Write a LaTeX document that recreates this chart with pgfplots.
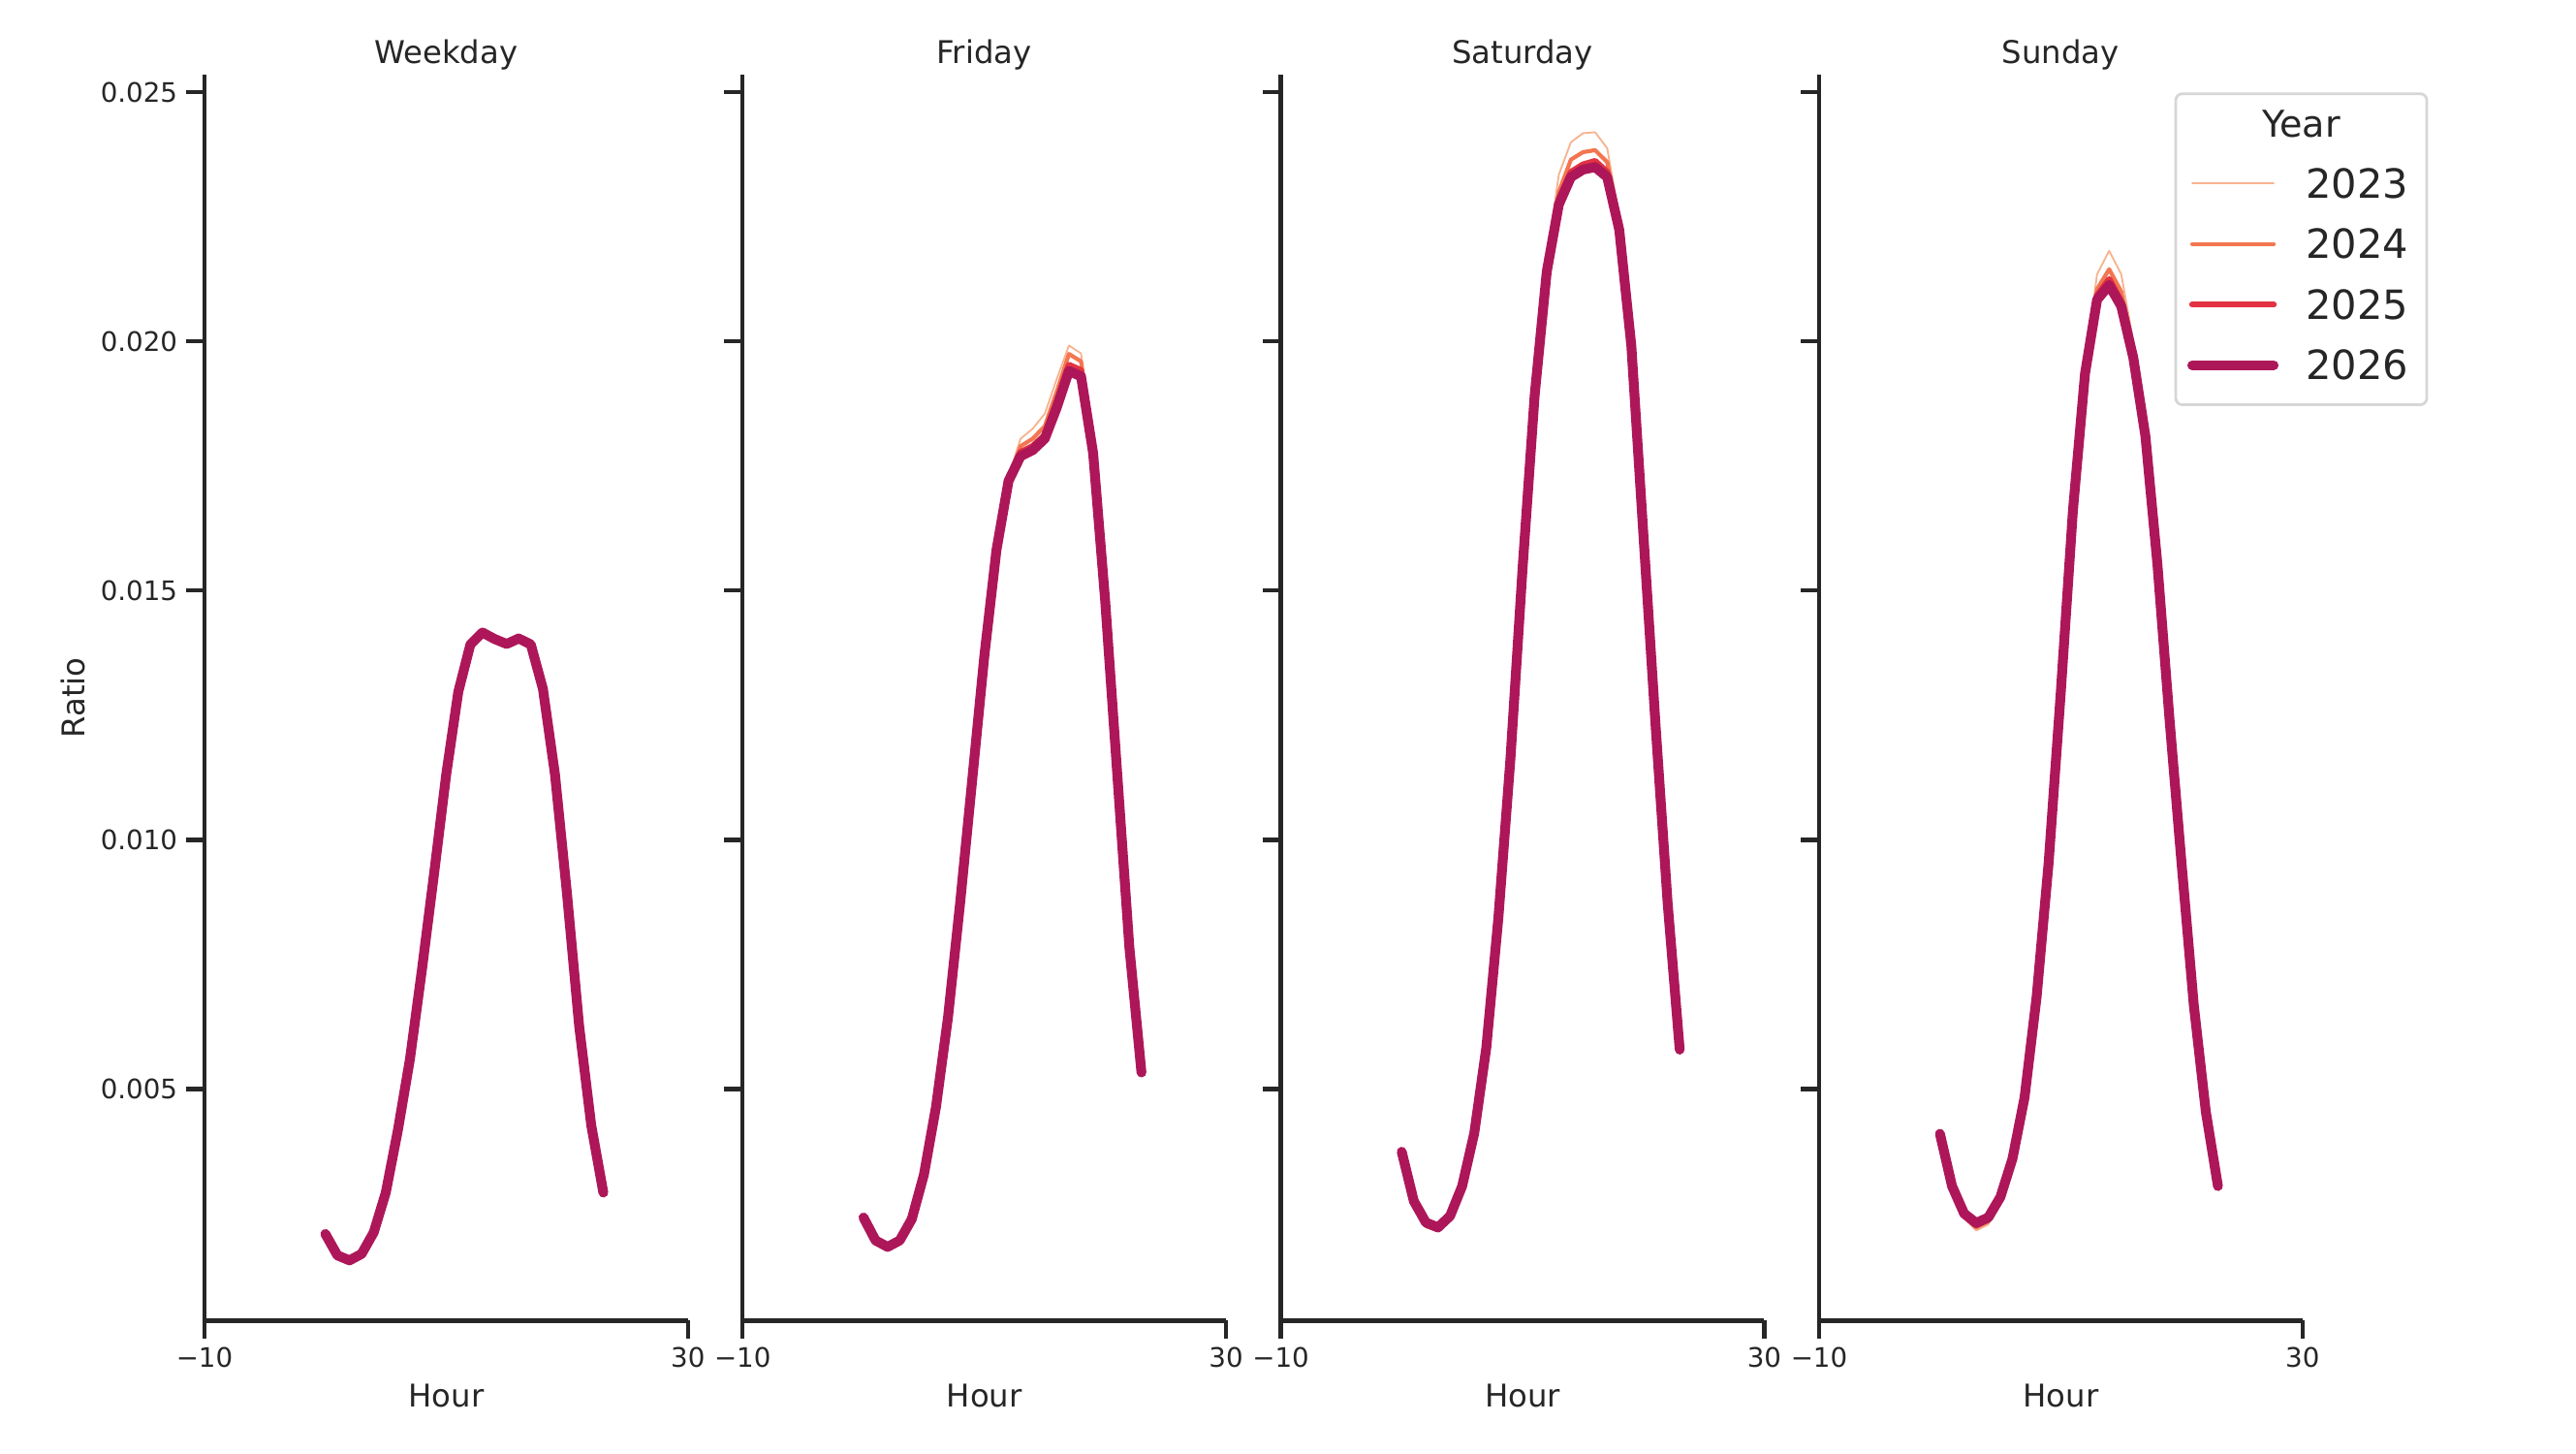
\documentclass[border=0pt]{standalone}
\usepackage{fontspec}
\setmainfont{DejaVu Sans}
\usepackage{pgfplots}
\usepackage{pgfplotstable}
\pgfplotsset{compat=1.18}

\definecolor{axcol}{HTML}{262626}
\definecolor{lgcol}{HTML}{D6D6D6}
\definecolor{c23}{HTML}{F6B48F}
\definecolor{c24}{HTML}{F37651}
\definecolor{c25}{HTML}{E13342}
\definecolor{c26}{HTML}{AD1759}

% hourly ratio per year: h y23 y24 y25 y26
\pgfplotstableread{
h y23 y24 y25 y26
0 0.00205 0.00207 0.00208 0.00209
1 0.00160 0.00163 0.00165 0.00166
2 0.00150 0.00153 0.00155 0.00156
3 0.00163 0.00166 0.00168 0.00169
4 0.00208 0.00210 0.00211 0.00212
5 0.00290 0.00291 0.00292 0.00292
6 0.00416 0.00417 0.00417 0.00417
7 0.00560 0.00560 0.00560 0.00560
8 0.00741 0.00741 0.00741 0.00741
9 0.00933 0.00933 0.00933 0.00933
10 0.01131 0.01131 0.01131 0.01131
11 0.01297 0.01297 0.01297 0.01297
12 0.01392 0.01392 0.01392 0.01392
13 0.01414 0.01415 0.01416 0.01416
14 0.01403 0.01403 0.01403 0.01403
15 0.01398 0.01396 0.01395 0.01393
16 0.01412 0.01408 0.01406 0.01404
17 0.01396 0.01394 0.01393 0.01392
18 0.01305 0.01304 0.01303 0.01303
19 0.01131 0.01131 0.01131 0.01131
20 0.00890 0.00890 0.00890 0.00890
21 0.00626 0.00626 0.00626 0.00626
22 0.00425 0.00426 0.00427 0.00427
23 0.00285 0.00288 0.00290 0.00292
}\weekday

\pgfplotstableread{
h y23 y24 y25 y26
0 0.00238 0.00240 0.00241 0.00242
1 0.00190 0.00193 0.00195 0.00196
2 0.00176 0.00179 0.00181 0.00183
3 0.00191 0.00193 0.00195 0.00196
4 0.00236 0.00238 0.00239 0.00239
5 0.00327 0.00328 0.00328 0.00328
6 0.00464 0.00464 0.00464 0.00464
7 0.00645 0.00645 0.00645 0.00645
8 0.00874 0.00874 0.00874 0.00874
9 0.01121 0.01121 0.01121 0.01121
10 0.01369 0.01369 0.01369 0.01369
11 0.01585 0.01583 0.01582 0.01581
12 0.01730 0.01725 0.01722 0.01720
13 0.01805 0.01790 0.01778 0.01770
14 0.01825 0.01805 0.01790 0.01782
15 0.01855 0.01830 0.01812 0.01805
16 0.01925 0.01900 0.01880 0.01868
17 0.01992 0.01975 0.01953 0.01941
18 0.01976 0.01960 0.01942 0.01930
19 0.01790 0.01785 0.01780 0.01776
20 0.01482 0.01481 0.01480 0.01479
21 0.01131 0.01131 0.01131 0.01131
22 0.00782 0.00783 0.00784 0.00784
23 0.00526 0.00529 0.00531 0.00533
}\friday

\pgfplotstableread{
h y23 y24 y25 y26
0 0.00372 0.00373 0.00374 0.00374
1 0.00270 0.00272 0.00274 0.00275
2 0.00222 0.00226 0.00229 0.00232
3 0.00214 0.00217 0.00220 0.00222
4 0.00240 0.00242 0.00244 0.00245
5 0.00303 0.00304 0.00305 0.00305
6 0.00411 0.00411 0.00411 0.00411
7 0.00583 0.00583 0.00583 0.00583
8 0.00844 0.00844 0.00844 0.00844
9 0.01164 0.01164 0.01164 0.01164
10 0.01545 0.01545 0.01545 0.01545
11 0.01900 0.01896 0.01894 0.01892
12 0.02165 0.02150 0.02144 0.02140
13 0.02335 0.02300 0.02285 0.02275
14 0.02400 0.02365 0.02340 0.02330
15 0.02418 0.02380 0.02355 0.02345
16 0.02420 0.02384 0.02362 0.02350
17 0.02388 0.02360 0.02340 0.02330
18 0.02250 0.02235 0.02228 0.02224
19 0.02000 0.01995 0.01993 0.01991
20 0.01613 0.01612 0.01611 0.01611
21 0.01231 0.01231 0.01231 0.01231
22 0.00872 0.00873 0.00874 0.00874
23 0.00570 0.00574 0.00577 0.00579
}\saturday

\pgfplotstableread{
h y23 y24 y25 y26
0 0.00408 0.00409 0.00410 0.00410
1 0.00300 0.00302 0.00304 0.00305
2 0.00240 0.00244 0.00247 0.00250
3 0.00216 0.00222 0.00227 0.00231
4 0.00228 0.00234 0.00239 0.00242
5 0.00278 0.00280 0.00282 0.00283
6 0.00358 0.00359 0.00360 0.00360
7 0.00483 0.00483 0.00483 0.00483
8 0.00685 0.00685 0.00685 0.00685
9 0.00956 0.00956 0.00956 0.00956
10 0.01297 0.01297 0.01297 0.01297
11 0.01662 0.01661 0.01660 0.01660
12 0.01950 0.01942 0.01938 0.01935
13 0.02135 0.02105 0.02092 0.02084
14 0.02182 0.02145 0.02125 0.02113
15 0.02135 0.02100 0.02080 0.02071
16 0.02000 0.01985 0.01972 0.01967
17 0.01825 0.01818 0.01813 0.01810
18 0.01556 0.01554 0.01552 0.01551
19 0.01242 0.01241 0.01240 0.01240
20 0.00950 0.00950 0.00950 0.00950
21 0.00669 0.00669 0.00669 0.00669
22 0.00452 0.00453 0.00454 0.00454
23 0.00300 0.00302 0.00304 0.00305
}\sunday

\pgfplotsset{
  panel/.style={
    scale only axis, width=216.2pt, height=557pt,
    anchor=south west,
    xmin=-10, xmax=30, ymin=0.00035, ymax=0.02535,
    axis x line*=bottom, axis y line*=left,
    axis line style={line width=1.85pt, color=axcol, -},
    every outer x axis line/.append style={-},
    every outer y axis line/.append style={-},
    tick align=outside, major tick length=8.2pt,
    tick style={line width=1.85pt, color=axcol},
    xtick={-10,30}, xticklabels={−10,30},
    ytick={0.005,0.01,0.015,0.02,0.025},
    scaled y ticks=false,
    tick label style={font=\fontsize{12}{14}\selectfont, text=axcol},
    xticklabel style={anchor=north, inner sep=0pt, yshift=-3.7pt},
    yticklabel style={anchor=east, inner sep=0pt, xshift=-3.7pt},
    every axis title shift=0pt,
    title style={at={(axis description cs:0.5,1.009)}, anchor=base,
      font=\fontsize{14}{16}\selectfont, text=axcol},
    xlabel={Hour},
    xlabel style={at={(axis description cs:0.5,-0.0695)}, anchor=base,
      font=\fontsize{14}{16}\selectfont, text=axcol},
    ylabel style={at={(axis description cs:-0.2724,0.5)}, anchor=center,
      font=\fontsize{14}{16}\selectfont, text=axcol},
    clip=false,
  },
  s23/.style={color=c23, line width=0.8pt, line cap=round, line join=round, no markers},
  s24/.style={color=c24, line width=1.8pt, line cap=round, line join=round, no markers},
  s25/.style={color=c25, line width=2.8pt, line cap=round, line join=round, no markers},
  s26/.style={color=c26, line width=4.4pt, line cap=round, line join=round, no markers},
}

\begin{document}
\begin{tikzpicture}
\path (0pt,0pt) rectangle (1152pt,650.1pt);

\begin{axis}[panel, at={(91.45pt,59.6pt)}, title={Weekday}, ylabel={Ratio},
  yticklabels={0.005,0.010,0.015,0.020,0.025}]
\addplot[s23] table[x=h,y=y23] {\weekday};
\addplot[s24] table[x=h,y=y24] {\weekday};
\addplot[s25] table[x=h,y=y25] {\weekday};
\addplot[s26] table[x=h,y=y26] {\weekday};
\end{axis}

\begin{axis}[panel, at={(332.1pt,59.6pt)}, title={Friday}, yticklabels={}]
\addplot[s23] table[x=h,y=y23] {\friday};
\addplot[s24] table[x=h,y=y24] {\friday};
\addplot[s25] table[x=h,y=y25] {\friday};
\addplot[s26] table[x=h,y=y26] {\friday};
\end{axis}

\begin{axis}[panel, at={(572.8pt,59.6pt)}, title={Saturday}, yticklabels={}]
\addplot[s23] table[x=h,y=y23] {\saturday};
\addplot[s24] table[x=h,y=y24] {\saturday};
\addplot[s25] table[x=h,y=y25] {\saturday};
\addplot[s26] table[x=h,y=y26] {\saturday};
\end{axis}

\begin{axis}[panel, at={(813.5pt,59.6pt)}, title={Sunday}, yticklabels={},
  legend image code/.code={
    \path[draw=none, fill=none] (-2.4pt,-0.1pt) rectangle (38.9pt,0.1pt);
    \draw[#1, line cap=round] (0pt,0pt) -- (36.4pt,0pt);
  },
  legend style={at={(axis description cs:0.7349,0.986)}, anchor=north west,
    draw=lgcol, line width=1.2pt, rounded corners=3pt, fill=white,
    inner xsep=5pt, inner ysep=4.15pt, row sep=0pt, column sep=12pt,
    cells={anchor=west}, nodes={inner sep=0pt, text depth=0pt},
    font=\fontsize{18}{18}\selectfont, text=axcol},
]
\addlegendimage{empty legend}
\addlegendentry[text height=15.35pt, text depth=7.05pt, font=\fontsize{16.5}{16.5}\selectfont]{\makebox[49pt][l]{\hspace*{-2.2pt}\makebox[0pt]{Year}}}
\addplot[s23] table[x=h,y=y23] {\sunday};
\addlegendentry[text height=20.1pt, text depth=7pt]{\makebox[49pt][l]{2023}}
\addplot[s24] table[x=h,y=y24] {\sunday};
\addlegendentry[text height=20.1pt, text depth=7pt]{\makebox[49pt][l]{2024}}
\addplot[s25] table[x=h,y=y25] {\sunday};
\addlegendentry[text height=20.1pt, text depth=7pt]{\makebox[49pt][l]{2025}}
\addplot[s26] table[x=h,y=y26] {\sunday};
\addlegendentry[text height=20.1pt, text depth=7pt]{\makebox[49pt][l]{2026}}
\end{axis}
\end{tikzpicture}
\end{document}
